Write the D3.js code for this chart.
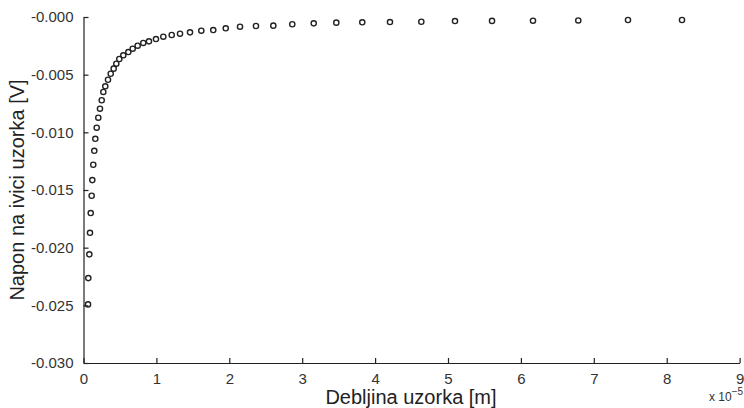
<!DOCTYPE html>
<html><head><meta charset="utf-8">
<script src="https://cdn.jsdelivr.net/npm/d3@7"></script>
<style>body{margin:0;background:#fff;overflow:hidden}svg{display:block}</style>
</head><body><svg id="c" width="744" height="408"></svg>
<script>
// thickness (x 10^-5 m)
const thickness = [0.062,0.066,0.080,0.089,0.099,0.112,0.121,0.134,
  0.148,0.162,0.181,0.203,0.226,0.250,0.272,0.299,0.336,0.373,0.414,0.450,0.491,0.546,0.615,0.675,0.743,0.820,0.898,0.994,
  1.095,1.210,1.324,1.461,1.616,1.780,1.951,2.147,2.366,2.604,2.864,3.158,3.468,3.824,4.204,4.634,5.096,5.604,6.166,6.787,7.469,8.210];
// edge voltage (V)
const voltage = [-0.02492,-0.02264,-0.02058,-0.01871,-0.01700,-0.01550,-0.01414,-0.01281,
  -0.01160,-0.01056,-0.00960,-0.00873,-0.00795,-0.00722,-0.00650,-0.00601,-0.00544,-0.00492,-0.00448,-0.00405,-0.00364,-0.00332,-0.00304,-0.00275,-0.00249,-0.00225,-0.00211,-0.00191,
  -0.00171,-0.00156,-0.00145,-0.00133,-0.00119,-0.00113,-0.00098,-0.00084,-0.00078,-0.00075,-0.00063,-0.00055,-0.00049,-0.00046,-0.00044,-0.00041,-0.00035,-0.00034,-0.00032,-0.00030,-0.00026,-0.00026];
const xTicks = [0,1,2,3,4,5,6,7,8,9];
const yTicks = [0,-0.005,-0.010,-0.015,-0.020,-0.025,-0.030];
const xTitle = "Debljina uzorka [m]";
const yTitle = "Napon na ivici uzorka [V]";

const svg = d3.select("#c");
const L = 83.5, R = 739.6, T = 17, B = 363;
const x = d3.scaleLinear().domain([0, 9]).range([L, R]);
const y = d3.scaleLinear().domain([-0.030, 0]).range([B, T]);
const font = "Liberation Sans, Arial, Helvetica, sans-serif";

const gx = svg.append("g").attr("transform", `translate(0,${B})`)
  .call(d3.axisBottom(x).tickValues(xTicks).tickSizeInner(-5).tickSizeOuter(0).tickPadding(10).tickFormat(d3.format("d")));
const gy = svg.append("g").attr("transform", `translate(${L},0)`)
  .call(d3.axisLeft(y).tickValues(yTicks).tickSizeInner(-5).tickSizeOuter(0).tickPadding(10)
    .tickFormat(d => "-" + Math.abs(d).toFixed(3)));
[gx, gy].forEach(g => {
  g.select(".domain").attr("stroke", "#222").attr("stroke-width", 1.2);
  g.selectAll(".tick line").attr("stroke", "#222").attr("stroke-width", 1.2);
  g.selectAll(".tick text").attr("fill", "#333").style("font-family", font).style("font-size", "15px");
});

svg.append("text").attr("x", 411).attr("y", 404).attr("text-anchor", "middle")
  .style("font-family", font).style("font-size", "20px").attr("fill", "#222").text(xTitle);
svg.append("text").attr("transform", `translate(24,${190}) rotate(-90)`).attr("text-anchor", "middle")
  .style("font-family", font).style("font-size", "20px").attr("fill", "#222").text(yTitle);
const ex = svg.append("text").attr("x", 709).attr("y", 401)
  .style("font-family", font).style("font-size", "12px").attr("fill", "#333");
ex.append("tspan").text("x 10");
ex.append("tspan").attr("dy", -6).style("font-size", "10px").text("\u22125");

svg.append("g").selectAll("circle").data(thickness).join("circle")
  .attr("cx", (d, i) => x(d)).attr("cy", (d, i) => y(voltage[i])).attr("r", 2.6)
  .attr("fill", "none").attr("stroke", "#222").attr("stroke-width", 1.4);
</script></body></html>
